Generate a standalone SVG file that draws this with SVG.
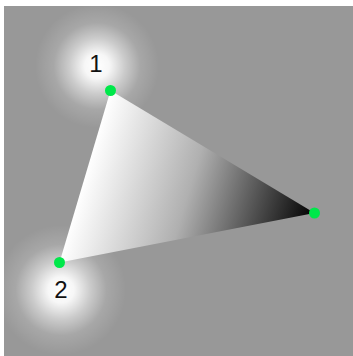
<svg xmlns="http://www.w3.org/2000/svg" width="353" height="356" viewBox="0 0 353 356">
  <style>
    .lbl { font-family: "Liberation Sans", Arial, sans-serif; font-size: 24px; fill: #111; text-anchor: middle; }
    .dot { fill: #00e84a; }
  </style>
  <defs>
    <radialGradient id="glow">
      <stop offset="0" stop-color="#fff" stop-opacity="1"/>
      <stop offset="0.2" stop-color="#fff" stop-opacity="0.92"/>
      <stop offset="0.45" stop-color="#fff" stop-opacity="0.5"/>
      <stop offset="0.7" stop-color="#fff" stop-opacity="0.15"/>
      <stop offset="1" stop-color="#fff" stop-opacity="0"/>
    </radialGradient>
    <linearGradient id="shade" gradientUnits="userSpaceOnUse" x1="94" y1="146" x2="315" y2="213">
      <stop offset="0" stop-color="#ffffff"/>
      <stop offset="0.45" stop-color="#b0b0b0"/>
      <stop offset="1" stop-color="#000000"/>
    </linearGradient>
  </defs>
  <rect x="0" y="0" width="353" height="356" fill="#ffffff"/>
  <rect x="4" y="6" width="349" height="350" fill="#989898"/>
  <circle cx="97" cy="66" r="62" fill="url(#glow)"/>
  <circle cx="61" cy="290" r="65" fill="url(#glow)"/>
  <g id="connectors">
    <polygon points="110.5,90.5 59.5,262.5 314.5,213" fill="url(#shade)"/>
  </g>
  <g id="node1">
    <circle class="dot" cx="110.5" cy="90.5" r="5.5"/>
    <text class="lbl" x="96" y="72">1</text>
  </g>
  <g id="node2">
    <circle class="dot" cx="59.5" cy="262.5" r="5.5"/>
    <text class="lbl" x="61" y="298">2</text>
  </g>
  <g id="node3">
    <circle class="dot" cx="314.5" cy="213" r="5.5"/>
  </g>
</svg>
